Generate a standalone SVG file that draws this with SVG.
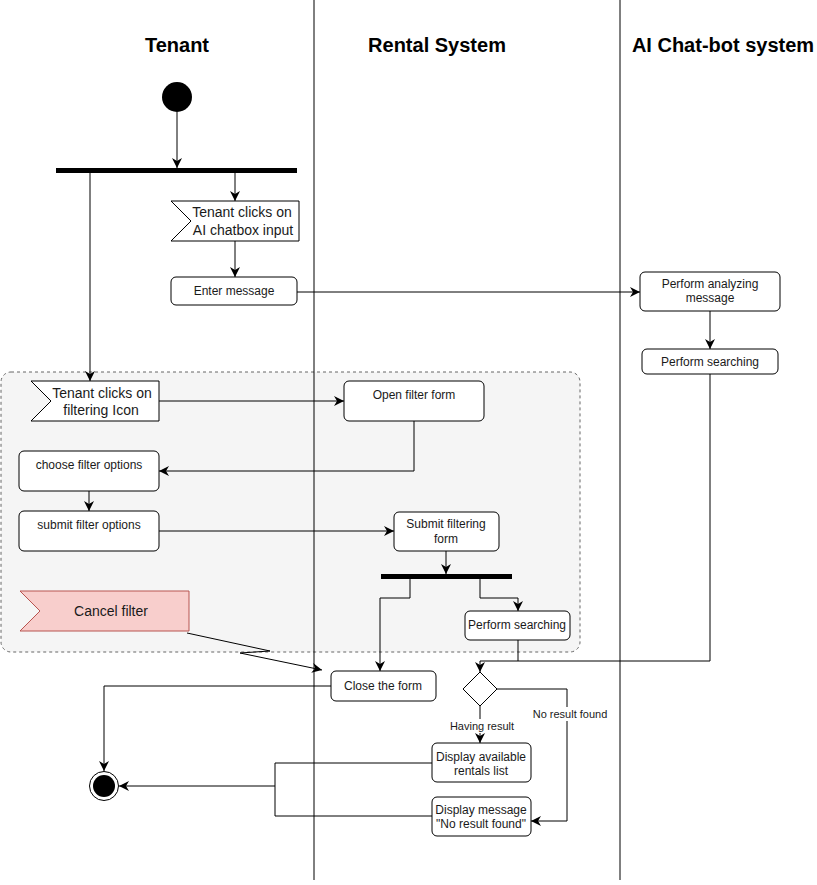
<svg xmlns="http://www.w3.org/2000/svg" width="817" height="885" viewBox="0 0 817 885">
<defs>
<marker id="ah" viewBox="0 0 10 10" refX="10" refY="5" markerWidth="10" markerHeight="10" markerUnits="userSpaceOnUse" orient="auto">
<path d="M0,0 L10,5 L0,10 L3,5 Z" fill="#000"/>
</marker>
<style>
.t{font-family:"Liberation Sans",Arial,sans-serif;fill:#1a1a1a;text-anchor:middle}
.h{font-size:20px;font-weight:bold;fill:#000}
.s{font-size:12px}
.m{font-size:14px}
.l{font-size:11px}
.box{fill:#fff;stroke:#000;stroke-width:1}
.c{fill:none;stroke:#000;stroke-width:1}
.a{fill:none;stroke:#000;stroke-width:1;marker-end:url(#ah)}
</style>
</defs>
<rect width="817" height="885" fill="#fff"/>
<g id="headers">
<text class="t h" x="177" y="52">Tenant</text>
<text class="t h" x="437" y="52">Rental System</text>
<text class="t h" x="723" y="52">AI Chat-bot system</text>
</g>
<g id="filter-group">
<rect x="1" y="372" width="579" height="280" rx="10" fill="#f5f5f5" stroke="#666" stroke-dasharray="3,3"/>
</g>
<g id="lanes">
<line x1="314" y1="0" x2="314" y2="880" stroke="#000"/>
<line x1="620" y1="0" x2="620" y2="880" stroke="#000"/>
</g>
<g id="connectors">
<path class="a" d="M177,112 L177,168"/>
<path class="a" d="M90,173 L90,381"/>
<path class="a" d="M235,173 L235,201"/>
<path class="a" d="M235,241 L235,277"/>
<path class="a" d="M297,292 L640,292"/>
<path class="a" d="M710,311 L710,349"/>
<path class="a" d="M159,401 L344,401"/>
<path class="a" d="M414,421 L414,471 L159,471"/>
<path class="a" d="M89,491 L89,511"/>
<path class="a" d="M159,531 L394,531"/>
<path class="a" d="M446,551 L446,574"/>
<path class="a" d="M410,579 L410,598 L380,598 L380,671"/>
<path class="a" d="M480,579 L480,598 L518,598 L518,611"/>
<path class="a" d="M187,633 L270,651 L240,653 L322,670"/>
<path class="a" d="M331,686 L104,686 L104,771"/>
<path class="c" d="M518,640 L518,661"/>
<path class="a" d="M710,374 L710,661 L480,661 L480,672"/>
<path class="a" d="M497,689 L567,689 L567,821 L531,821"/>
<path class="a" d="M480,706 L480,743"/>
<path class="c" d="M432,763 L275,763 L275,816 L432,816"/>
<path class="a" d="M275,786 L119,786"/>
<rect x="530" y="707" width="80" height="14" fill="#fff"/>
<text class="t l" x="570" y="718">No result found</text>
<rect x="447" y="719" width="70" height="14" fill="#fff"/>
<text class="t l" x="482" y="730">Having result</text>
</g>
<g id="start"><circle cx="177" cy="97" r="15" fill="#000"/></g>
<g id="fork1"><rect x="56" y="168" width="241" height="5" fill="#000"/></g>
<g id="ai-input">
<path class="box" d="M171,201 L299,201 L299,241 L171,241 L191,221 Z"/>
<text class="t m" x="242" y="217">Tenant clicks on</text>
<text class="t m" x="243" y="235">AI chatbox input</text>
</g>
<g id="enter-message">
<rect class="box" x="171" y="277" width="126" height="28" rx="5"/>
<text class="t s" x="234" y="295">Enter message</text>
</g>
<g id="analyze">
<rect class="box" x="640" y="272" width="140" height="39" rx="5"/>
<text class="t s" x="710" y="288">Perform analyzing</text>
<text class="t s" x="710" y="302">message</text>
</g>
<g id="ai-search">
<rect class="box" x="642" y="349" width="136" height="25" rx="5"/>
<text class="t s" x="710" y="366">Perform searching</text>
</g>
<g id="filter-icon">
<path class="box" d="M31,381 L159,381 L159,421 L31,421 L51,401 Z"/>
<text class="t m" x="102" y="398">Tenant clicks on</text>
<text class="t m" x="101" y="415">filtering Icon</text>
</g>
<g id="open-filter">
<rect class="box" x="344" y="381" width="140" height="40" rx="5"/>
<text class="t s" x="414" y="399">Open filter form</text>
</g>
<g id="choose-filter">
<rect class="box" x="19" y="451" width="140" height="40" rx="5"/>
<text class="t s" x="89" y="469">choose filter options</text>
</g>
<g id="submit-filter">
<rect class="box" x="19" y="511" width="140" height="40" rx="5"/>
<text class="t s" x="89" y="529">submit filter options</text>
</g>
<g id="submit-form">
<rect class="box" x="394" y="512" width="105" height="39" rx="5"/>
<text class="t s" x="446" y="528">Submit filtering</text>
<text class="t s" x="446" y="543">form</text>
</g>
<g id="fork2"><rect x="381" y="574" width="131" height="5" fill="#000"/></g>
<g id="rental-search">
<rect class="box" x="465" y="611" width="105" height="29" rx="5"/>
<text class="t s" x="517" y="629">Perform searching</text>
</g>
<g id="cancel-filter">
<path d="M20,591 L189,591 L189,631 L20,631 L40,611 Z" fill="#f8cecc" stroke="#b85450"/>
<text class="t m" x="111" y="616">Cancel filter</text>
</g>
<g id="close-form">
<rect class="box" x="331" y="671" width="105" height="30" rx="5"/>
<text class="t s" x="383" y="690">Close the form</text>
</g>
<g id="decision">
<path class="box" d="M480,672 L497,689 L480,706 L463,689 Z"/>
</g>
<g id="display-list">
<rect class="box" x="432" y="743" width="99" height="39" rx="5"/>
<text class="t s" x="481" y="761">Display available</text>
<text class="t s" x="481" y="775">rentals list</text>
</g>
<g id="display-none">
<rect class="box" x="432" y="797" width="99" height="39" rx="5"/>
<text class="t s" x="481" y="814">Display message</text>
<text class="t s" x="481" y="828">"No result found"</text>
</g>
<g id="end">
<circle cx="104" cy="786" r="14.5" fill="#fff" stroke="#000"/>
<circle cx="104" cy="786" r="11" fill="#000"/>
</g>
</svg>
